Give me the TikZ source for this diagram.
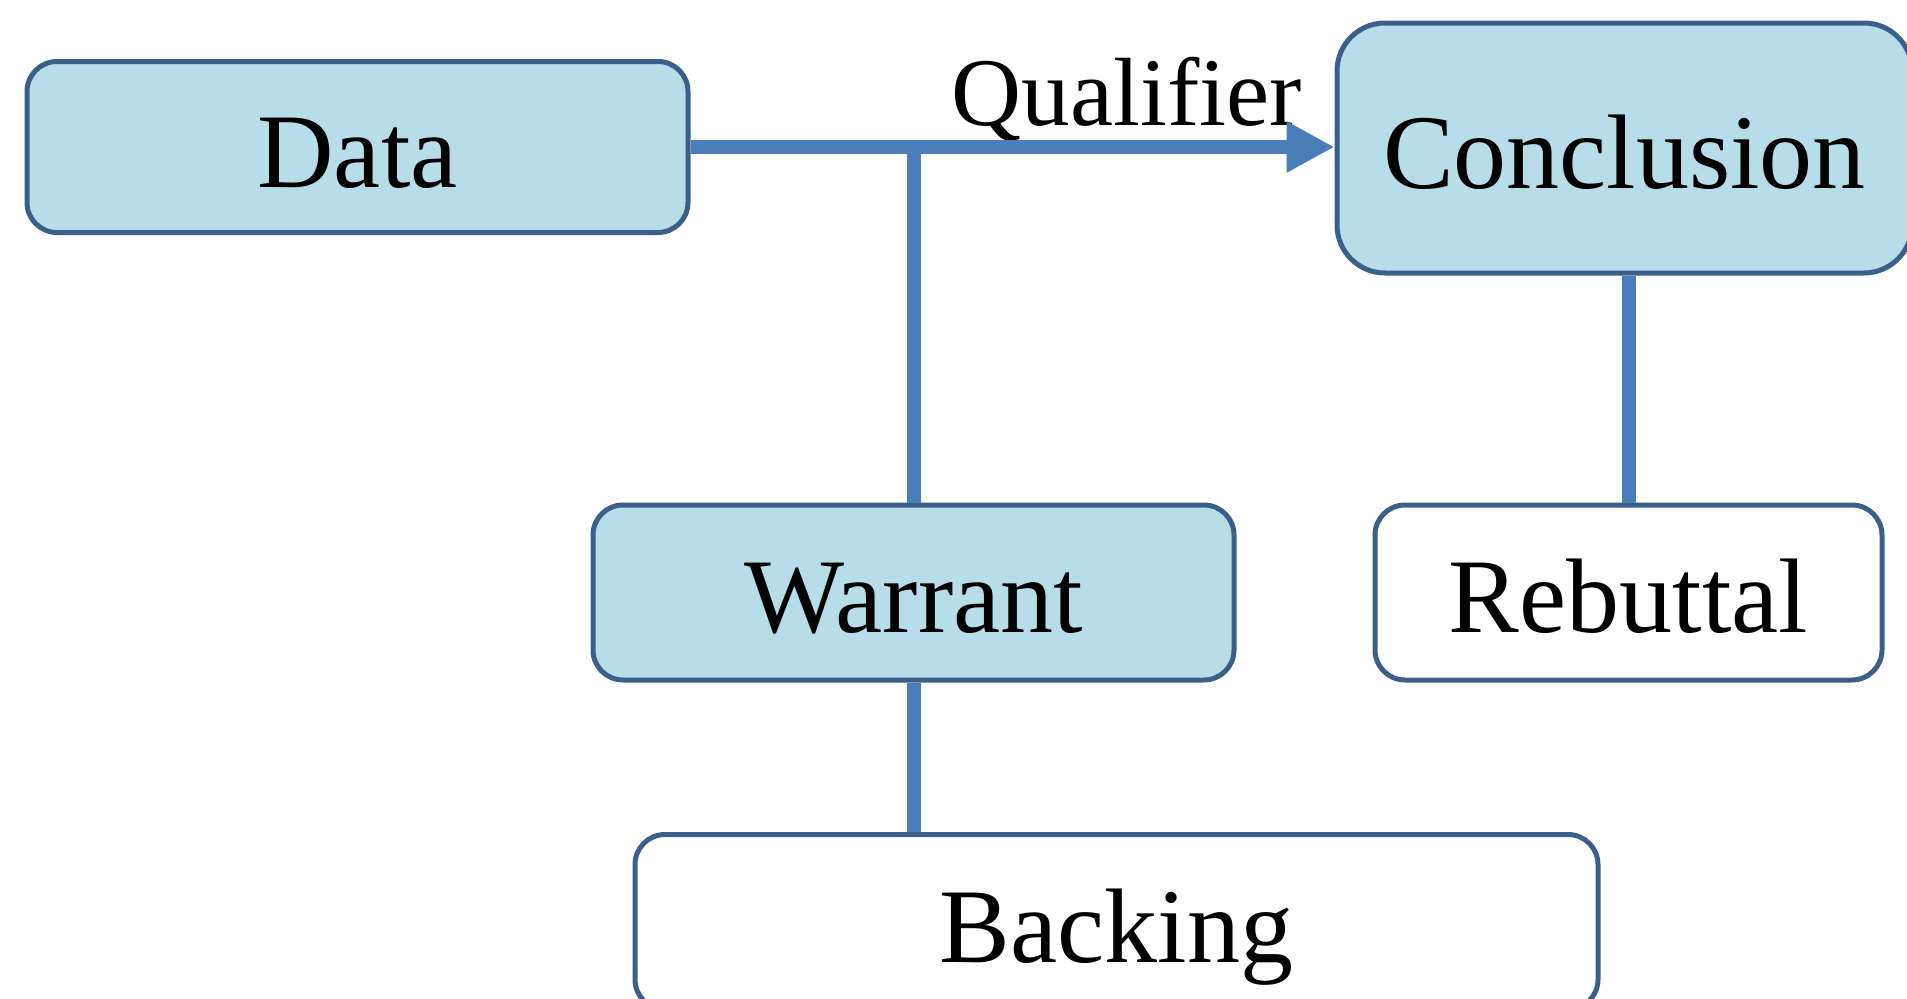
\documentclass[tikz,border=0pt]{standalone}
\usepackage{fontspec}
\setmainfont{Liberation Serif}
\usetikzlibrary{arrows.meta}
\definecolor{boxfill}{HTML}{B7DDE8}
\definecolor{boxline}{HTML}{3A5F8B}
\definecolor{linkblue}{HTML}{4A7EBB}

\begin{document}
\begin{tikzpicture}[x=1pt, y=1pt,
    part/.style={draw=boxline, line width=5pt, rounded corners=30pt, inner sep=0pt,
        text height=80pt, text depth=0pt, font=\fontsize{106}{110}\selectfont},
    shaded/.style={part, fill=boxfill},
    link/.style={draw=linkblue, line width=14pt}]
    \clip (0,0) rectangle (1907,-999);
    \node[shaded, minimum width=661pt, minimum height=171pt] (data) at (357.5,-147) {Data};
    \node[shaded, rounded corners=48pt, minimum width=575pt, minimum height=250pt] (conc) at (1624.5,-148) {Conclusion};
    \node[shaded, minimum width=641pt, minimum height=175pt] (warrant) at (913.5,-592.5) {Warrant};
    \node[part, minimum width=507pt, minimum height=175pt] (rebuttal) at (1628.5,-592.5) {Rebuttal};
    \node[part, minimum width=963pt, minimum height=175pt] (backing) at (1116.5,-922) {Backing};
    \node[anchor=base, inner sep=0pt, font=\fontsize{97}{100}\selectfont] (qual) at (1127,-125) {Qualifier};
    % connectors
    \draw[link, -{Triangle[length=48pt, width=48pt]}] (data.east) -- (data.east -| conc.west);
    \draw[link] (warrant.north) -- (warrant.north |- data.east);
    \draw[link] (warrant.south) -- (warrant.south |- backing.north);
    \draw[link] (rebuttal.north) -- (rebuttal.north |- conc.south);
    %\draw[link] (conc.south) -- (rebuttal.north);
\end{tikzpicture}
\end{document}
